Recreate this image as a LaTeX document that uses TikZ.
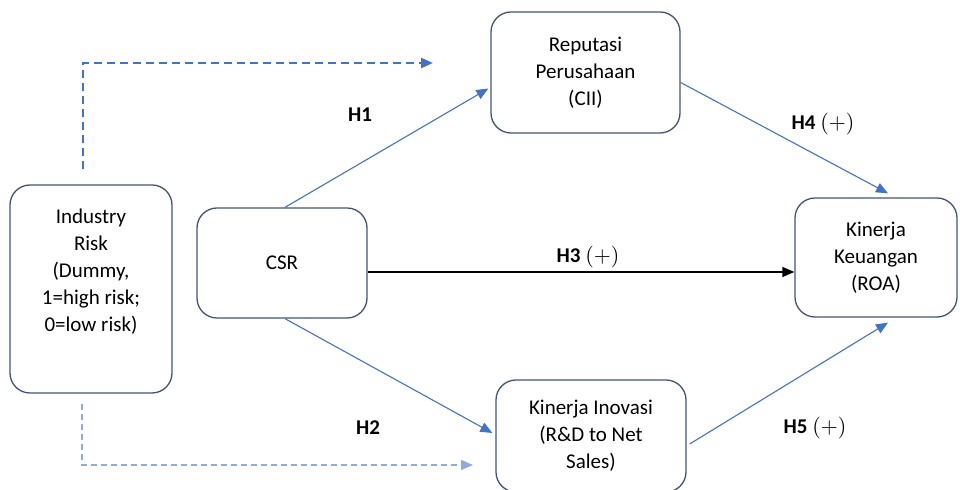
\documentclass[tikz,border=0pt]{standalone}
\usepackage{fontspec}
\setmainfont{Carlito}
\usetikzlibrary{%
	arrows.meta,%
	calc%
}
\definecolor{frameblue}{RGB}{66,84,118}
\definecolor{linkblue}{RGB}{68,114,196}
\definecolor{paleblue}{RGB}{143,170,220}

\begin{document}
\begin{tikzpicture}[
        x=0.5pt, y=-0.5pt,
        >={Triangle[length=6pt,width=5pt]},
        block/.style={draw=frameblue, line width=0.65pt, rounded corners=10pt,
        	align=center, font={\fontsize{10.5}{13.6}\selectfont}},
        link/.style={->, draw=linkblue, line width=0.55pt},
        control/.style={->, draw=linkblue, line width=1.2pt,
        	dash pattern=on 4pt off 2.5pt},
        softcontrol/.style={->, draw=paleblue, line width=0.75pt,
        	dash pattern=on 3pt off 2pt},
        hyp/.style={font={\fontsize{10.5}{13.6}\selectfont}}
    ]

    \useasboundingbox (0,0) rectangle (960,490);

    %Draw the variables
    \node[block, minimum width=81pt, minimum height=104pt] (risk) at (91,289)
        {\raisebox{8.5pt}[\height][\depth]{\begin{tabular}{@{}c@{}}Industry\\Risk\\(Dummy,\\1=high risk;\\0=low risk)\end{tabular}}};
    \node[block, minimum width=85pt, minimum height=55pt] (csr) at (282,263) {CSR};
    \node[block, minimum width=94.5pt, minimum height=60.5pt] (rep) at (585.5,72.5)
        {Reputasi\\Perusahaan\\(CII)};
    \node[block, minimum width=81pt, minimum height=59.5pt] (keu) at (876,257.5)
        {Kinerja\\Keuangan\\(ROA)};
    \node[block, minimum width=95pt, minimum height=56pt] (inov) at (591,436)
        {Kinerja Inovasi\\(R\&D to Net\\Sales)};

    %control variable
    \coordinate (riskup) at (433,63);
    \coordinate (riskdown) at (473,465);
    \draw[control] ($(risk.north)+(-8,-15)$) |- (riskup);
    \draw[softcontrol] ($(risk.south)+(-9,10)$) |- (riskdown);

    %hypotheses
    \draw[link] ($(csr.north)+(3,0)$) -- ($(rep.west)+(-2,16)$);
    \draw[link] ($(csr.south)+(3,0)$) -- ($(inov.west)+(-3,-3)$);
    \draw[->, line width=0.65pt] ($(csr.east)+(0,9)$) -- ($(keu.west)+(0,14.5)$);
    \draw[link] ($(rep.east)+(0,10)$) -- ($(keu.north)+(12,-4)$);
    \draw[link] ($(inov.east)+(3,8)$) -- ($(keu.south)+(12,5)$);

    \node[hyp] (h1) at (360,115) {\textbf{H1}};
    \node[hyp] (h2) at (368,428) {\textbf{H2}};
    \node[hyp] (h3) at (588,257) {\textbf{H3} $(+)$};
    \node[hyp] (h4) at (823,124) {\textbf{H4} $(+)$};
    \node[hyp] (h5) at (815,428) {\textbf{H5} $(+)$};
\end{tikzpicture}
\end{document}
